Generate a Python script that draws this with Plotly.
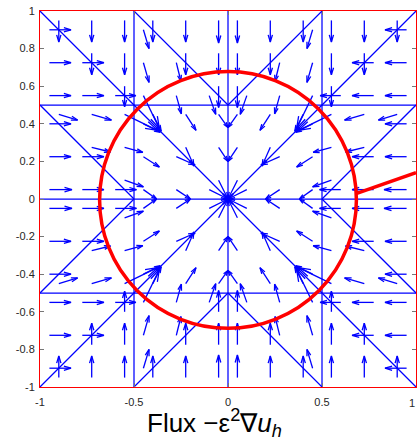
import plotly.graph_objects as go

# ---------------- data: arrow start (x, y) and flux vector (u, v) ----------------
arrows_tl = [
    (-0.9, 0.95, 0, -0.115), (-0.725, 0.95, 0, -0.115), (-0.55, 0.95, 0, -0.115),
    (-0.725, 0.775, 0, -0.115), (-0.55, 0.775, 0, -0.115), (-0.55, 0.6, 0, -0.11),
    (-0.95, 0.9, 0.115, 0), (-0.95, 0.725, 0.115, 0), (-0.95, 0.55, 0.115, 0),
    (-0.775, 0.725, 0.115, 0), (-0.775, 0.55, 0.115, 0), (-0.6, 0.55, 0.11, 0),
    (-0.45, 0.9, 0.03, -0.1), (-0.45, 0.725, 0.03, -0.105), (-0.45, 0.55, 0.085, -0.175),
    (-0.275, 0.725, 0.025, -0.1), (-0.275, 0.55, 0.027, -0.097), (-0.1, 0.55, 0.035, -0.1),
    (-0.4, 0.95, 0, -0.115), (-0.225, 0.95, 0, -0.115), (-0.05, 0.95, 0, -0.12),
    (-0.225, 0.775, 0, -0.115), (-0.05, 0.775, 0, -0.115), (-0.05, 0.6, 0, -0.113),
    (-0.9, 0.45, 0.1, -0.03), (-0.725, 0.45, 0.105, -0.03), (-0.55, 0.45, 0.175, -0.085),
    (-0.725, 0.275, 0.1, -0.025), (-0.55, 0.275, 0.097, -0.027), (-0.55, 0.1, 0.1, -0.035),
    (-0.95, 0.4, 0.115, 0), (-0.95, 0.225, 0.115, 0), (-0.95, 0.05, 0.12, 0),
    (-0.775, 0.225, 0.115, 0), (-0.775, 0.05, 0.115, 0), (-0.6, 0.05, 0.113, 0),
    (-0.4, 0.45, 0.045, -0.09), (-0.225, 0.45, 0.055, -0.085), (-0.05, 0.45, 0.05, -0.07),
    (-0.225, 0.275, 0.044, -0.1), (-0.05, 0.275, 0.05, -0.075), (-0.05, 0.1, 0.05, -0.1),
    (-0.45, 0.4, 0.09, -0.045), (-0.45, 0.225, 0.085, -0.055), (-0.45, 0.05, 0.07, -0.05),
    (-0.275, 0.225, 0.1, -0.044), (-0.275, 0.05, 0.075, -0.05), (-0.1, 0.05, 0.1, -0.05),
]

arrows_tr = [
    (0.9, 0.95, 0, -0.115), (0.725, 0.95, 0, -0.115), (0.55, 0.95, 0, -0.115),
    (0.725, 0.775, 0, -0.115), (0.55, 0.775, 0, -0.115), (0.55, 0.6, 0, -0.11),
    (0.95, 0.9, -0.115, 0), (0.95, 0.725, -0.115, 0), (0.95, 0.55, -0.115, 0),
    (0.775, 0.725, -0.115, 0), (0.775, 0.55, -0.115, 0), (0.6, 0.55, -0.11, 0),
    (0.45, 0.9, -0.03, -0.1), (0.45, 0.725, -0.03, -0.105), (0.45, 0.55, -0.085, -0.175),
    (0.275, 0.725, -0.025, -0.1), (0.275, 0.55, -0.027, -0.097), (0.1, 0.55, -0.035, -0.1),
    (0.4, 0.95, 0, -0.115), (0.225, 0.95, 0, -0.115), (0.05, 0.95, 0, -0.12),
    (0.225, 0.775, 0, -0.115), (0.05, 0.775, 0, -0.115), (0.05, 0.6, 0, -0.113),
    (0.9, 0.45, -0.1, -0.03), (0.725, 0.45, -0.105, -0.03), (0.55, 0.45, -0.175, -0.085),
    (0.725, 0.275, -0.1, -0.025), (0.55, 0.275, -0.097, -0.027), (0.55, 0.1, -0.1, -0.035),
    (0.95, 0.4, -0.115, 0), (0.95, 0.225, -0.115, 0), (0.95, 0.05, -0.12, 0),
    (0.775, 0.225, -0.115, 0), (0.775, 0.05, -0.115, 0), (0.6, 0.05, -0.113, 0),
    (0.4, 0.45, -0.045, -0.09), (0.225, 0.45, -0.055, -0.085), (0.05, 0.45, -0.05, -0.07),
    (0.225, 0.275, -0.044, -0.1), (0.05, 0.275, -0.05, -0.075), (0.05, 0.1, -0.05, -0.1),
    (0.45, 0.4, -0.09, -0.045), (0.45, 0.225, -0.085, -0.055), (0.45, 0.05, -0.07, -0.05),
    (0.275, 0.225, -0.1, -0.044), (0.275, 0.05, -0.075, -0.05), (0.1, 0.05, -0.1, -0.05),
]

arrows_bl = [
    (-0.9, -0.95, 0, 0.115), (-0.725, -0.95, 0, 0.115), (-0.55, -0.95, 0, 0.115),
    (-0.725, -0.775, 0, 0.115), (-0.55, -0.775, 0, 0.115), (-0.55, -0.6, 0, 0.11),
    (-0.95, -0.9, 0.115, 0), (-0.95, -0.725, 0.115, 0), (-0.95, -0.55, 0.115, 0),
    (-0.775, -0.725, 0.115, 0), (-0.775, -0.55, 0.115, 0), (-0.6, -0.55, 0.11, 0),
    (-0.45, -0.9, 0.03, 0.1), (-0.45, -0.725, 0.03, 0.105), (-0.45, -0.55, 0.085, 0.175),
    (-0.275, -0.725, 0.025, 0.1), (-0.275, -0.55, 0.027, 0.097), (-0.1, -0.55, 0.035, 0.1),
    (-0.4, -0.95, 0, 0.115), (-0.225, -0.95, 0, 0.115), (-0.05, -0.95, 0, 0.12),
    (-0.225, -0.775, 0, 0.115), (-0.05, -0.775, 0, 0.115), (-0.05, -0.6, 0, 0.113),
    (-0.9, -0.45, 0.1, 0.03), (-0.725, -0.45, 0.105, 0.03), (-0.55, -0.45, 0.175, 0.085),
    (-0.725, -0.275, 0.1, 0.025), (-0.55, -0.275, 0.097, 0.027), (-0.55, -0.1, 0.1, 0.035),
    (-0.95, -0.4, 0.115, 0), (-0.95, -0.225, 0.115, 0), (-0.95, -0.05, 0.12, 0),
    (-0.775, -0.225, 0.115, 0), (-0.775, -0.05, 0.115, 0), (-0.6, -0.05, 0.113, 0),
    (-0.4, -0.45, 0.045, 0.09), (-0.225, -0.45, 0.055, 0.085), (-0.05, -0.45, 0.05, 0.07),
    (-0.225, -0.275, 0.044, 0.1), (-0.05, -0.275, 0.05, 0.075), (-0.05, -0.1, 0.05, 0.1),
    (-0.45, -0.4, 0.09, 0.045), (-0.45, -0.225, 0.085, 0.055), (-0.45, -0.05, 0.07, 0.05),
    (-0.275, -0.225, 0.1, 0.044), (-0.275, -0.05, 0.075, 0.05), (-0.1, -0.05, 0.1, 0.05),
]

arrows_br = [
    (0.9, -0.95, 0, 0.115), (0.725, -0.95, 0, 0.115), (0.55, -0.95, 0, 0.115),
    (0.725, -0.775, 0, 0.115), (0.55, -0.775, 0, 0.115), (0.55, -0.6, 0, 0.11),
    (0.95, -0.9, -0.115, 0), (0.95, -0.725, -0.115, 0), (0.95, -0.55, -0.115, 0),
    (0.775, -0.725, -0.115, 0), (0.775, -0.55, -0.115, 0), (0.6, -0.55, -0.11, 0),
    (0.45, -0.9, -0.03, 0.1), (0.45, -0.725, -0.03, 0.105), (0.45, -0.55, -0.085, 0.175),
    (0.275, -0.725, -0.025, 0.1), (0.275, -0.55, -0.027, 0.097), (0.1, -0.55, -0.035, 0.1),
    (0.4, -0.95, 0, 0.115), (0.225, -0.95, 0, 0.115), (0.05, -0.95, 0, 0.12),
    (0.225, -0.775, 0, 0.115), (0.05, -0.775, 0, 0.115), (0.05, -0.6, 0, 0.113),
    (0.9, -0.45, -0.1, 0.03), (0.725, -0.45, -0.105, 0.03), (0.55, -0.45, -0.175, 0.085),
    (0.725, -0.275, -0.1, 0.025), (0.55, -0.275, -0.097, 0.027), (0.55, -0.1, -0.1, 0.035),
    (0.95, -0.4, -0.115, 0), (0.95, -0.225, -0.115, 0), (0.95, -0.05, -0.12, 0),
    (0.775, -0.225, -0.115, 0), (0.775, -0.05, -0.115, 0), (0.6, -0.05, -0.113, 0),
    (0.4, -0.45, -0.045, 0.09), (0.225, -0.45, -0.055, 0.085), (0.05, -0.45, -0.05, 0.07),
    (0.225, -0.275, -0.044, 0.1), (0.05, -0.275, -0.05, 0.075), (0.05, -0.1, -0.05, 0.1),
    (0.45, -0.4, -0.09, 0.045), (0.45, -0.225, -0.085, 0.055), (0.45, -0.05, -0.07, 0.05),
    (0.275, -0.225, -0.1, 0.044), (0.275, -0.05, -0.075, 0.05), (0.1, -0.05, -0.1, 0.05),
]

# mesh edges (interior), boundary is the red frame
mesh_edges = [
    ((-0.5, -1), (-0.5, 1)), ((0, -1), (0, 1)), ((0.5, -1), (0.5, 1)),
    ((-1, -0.5), (1, -0.5)), ((-1, 0), (1, 0)), ((-1, 0.5), (1, 0.5)),
    ((-1, 1), (1, -1)), ((-1, -1), (1, 1)),
    ((-0.5, 1), (0, 0.5)), ((0, 0.5), (0.5, 1)),
    ((-1, 0.5), (-0.5, 0)), ((-0.5, 0), (-1, -0.5)),
    ((-0.5, -1), (0, -0.5)), ((0, -0.5), (0.5, -1)),
    ((1, 0.5), (0.5, 0)), ((0.5, 0), (1, -0.5)),
]

# red interface contour
circle_center = (0.0, -0.005)
circle_radius = 0.683
branch_x = [0.685, 1.0]
branch_y = [0.03, 0.14]

x_tick_vals = [-1, -0.5, 0, 0.5, 1]
x_tick_text = ["-1", "-0.5", "0", "0.5", ""]
x_last_label = "1"
y_tick_vals = [-1, -0.8, -0.6, -0.4, -0.2, 0, 0.2, 0.4, 0.6, 0.8, 1]
y_tick_text = ["-1", "-0.8", "-0.6", "-0.4", "-0.2", "0", "0.2", "0.4", "0.6", "0.8", "1"]

# ---------------- build figure ----------------
BLUE = "#0000ff"
RED = "#ff0000"
FONT = "Liberation Sans, Arial, sans-serif"

fig = go.Figure()

mx, my = [], []
for (a, b) in mesh_edges:
    mx += [a[0], b[0], None]
    my += [a[1], b[1], None]
fig.add_trace(go.Scatter(x=mx, y=my, mode="lines",
                         line=dict(color=BLUE, width=1.25), hoverinfo="skip"))

ALPHA, BETA = 0.33, 0.3
sx, sy = [], []
for (x, y, u, v) in arrows_tl + arrows_tr + arrows_bl + arrows_br:
    tx, ty = x + u, y + v
    sx += [x, tx, None]
    sy += [y, ty, None]
    sx += [tx - ALPHA * (u + BETA * v), tx, tx - ALPHA * (u - BETA * v), None]
    sy += [ty - ALPHA * (v - BETA * u), ty, ty - ALPHA * (v + BETA * u), None]
fig.add_trace(go.Scatter(x=sx, y=sy, mode="lines",
                         line=dict(color=BLUE, width=1.3), hoverinfo="skip"))

cx, cy = circle_center
fig.add_shape(type="circle", xref="x", yref="y",
              x0=cx - circle_radius, x1=cx + circle_radius,
              y0=cy - circle_radius, y1=cy + circle_radius,
              line=dict(color=RED, width=3.5), layer="above")
fig.add_shape(type="line", xref="x", yref="y",
              x0=branch_x[0], y0=branch_y[0], x1=branch_x[1], y1=branch_y[1],
              line=dict(color=RED, width=3.5), layer="above")

fig.add_annotation(text="Flux \u2212\u03b5<sup>2</sup>\u2207<i>u</i><sub><i>h</i></sub>",
                   xref="paper", yref="paper", x=0.463, y=-0.097,
                   xanchor="center", yanchor="middle", showarrow=False,
                   font=dict(family=FONT, size=26, color="#000000"))

# last x tick label, kept inside the page like the reference
fig.add_annotation(text=x_last_label, xref="x", yref="paper",
                   x=x_tick_vals[-1], y=-0.043, xanchor="right", yanchor="middle",
                   xshift=1, showarrow=False,
                   font=dict(family=FONT, size=11, color="#262626"))

axis_common = dict(showgrid=False, zeroline=False, showline=True, linecolor=RED,
                   linewidth=1, mirror="ticks", ticks="inside", ticklen=4,
                   tickcolor="#777777", tickwidth=1,
                   tickfont=dict(family=FONT, size=11, color="#262626"))

fig.update_xaxes(range=[-1, 1], tickmode="array", tickvals=x_tick_vals, ticktext=x_tick_text,
                 ticklabelstandoff=5, **axis_common)
fig.update_yaxes(range=[-1, 1], tickmode="array", tickvals=y_tick_vals, ticktext=y_tick_text,
                 ticklabelstandoff=2, **axis_common)

fig.update_layout(width=417, height=442, showlegend=False,
                  margin=dict(l=40, r=1, t=11, b=55, pad=0),
                  plot_bgcolor="white", paper_bgcolor="white")

fig.write_html("out.html")
